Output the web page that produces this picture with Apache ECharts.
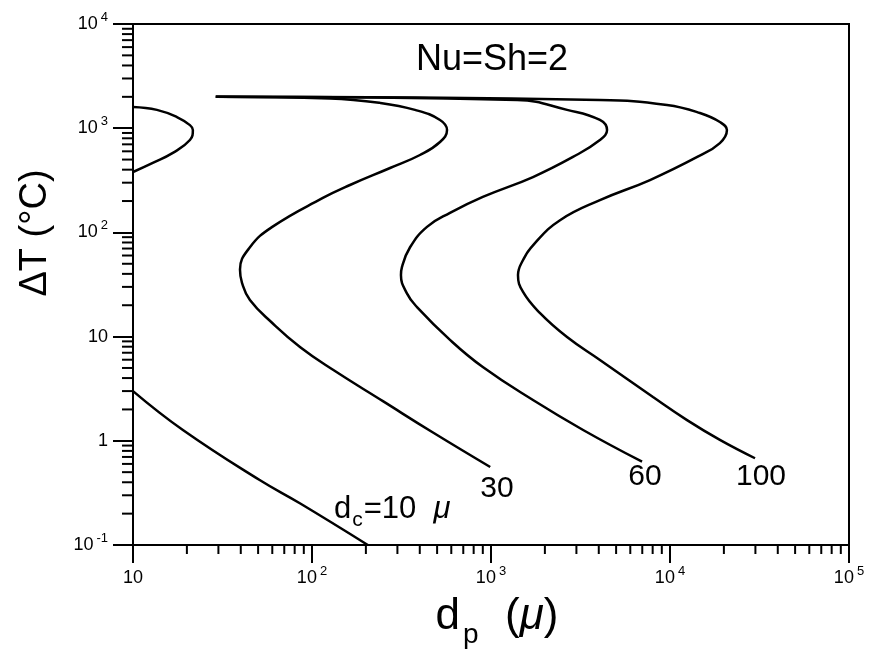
<!DOCTYPE html>
<html>
<head>
<meta charset="utf-8">
<script src="https://cdn.jsdelivr.net/npm/echarts@6/dist/echarts.min.js"></script>
<style>
    html, body {margin: 0; padding: 0; background: #fff;}
    #main {width: 872px; height: 650px;}
</style>
</head>
<body>
<div id="main"></div>
<script>
// axis ticks
let xTicks = [10, 100, 1000, 10000, 100000];
let xTickText = ['10', '10^2', '10^3', '10^4', '10^5'];
let yTicks = [0.1, 1, 10, 100, 1000, 10000];
let yTickText = ['10^-1', '1', '10', '10^2', '10^3', '10^4'];
let minorSteps = [2, 3, 4, 5, 6, 7, 8, 9];

// curves, [dp, dT]
let dc10Upper = [[10, 1600], [13.6, 1500], [17.6, 1280], [20.8, 1070], [21.6, 960], [20.8, 770], [16.7, 580], [12.9, 465], [10, 380]];
let dc10Lower = [[10, 3.0], [19, 1.27], [51, 0.42], [86, 0.25], [205, 0.1]];
let dc30 = [[29, 2000], [126, 1930], [240, 1750], [376, 1500], [519, 1200], [568, 960], [519, 737], [401, 553], [273, 415],
    [163, 285], [115, 214], [60, 113], [45, 72], [39.6, 44], [40.6, 33], [45, 22.4], [60, 13.5], [86, 7.9], [131, 4.8],
    [249, 2.4], [474, 1.2], [990, 0.56]];
let dc60 = [[29, 2000], [1400, 1865], [2660, 1500], [4060, 1200], [4450, 960], [4060, 770], [2870, 530], [1716, 340],
    [900, 219], [590, 154], [439, 113], [353, 72], [318, 46.5], [314, 39], [339, 26], [386, 19.2], [590, 9.3], [900, 5.1],
    [1716, 2.46], [3270, 1.27], [6980, 0.63]];
let dc100 = [[29, 2000], [4060, 1865], [9620, 1670], [14700, 1400], [19000, 1147], [20800, 960], [19000, 720], [14200, 530],
    [7730, 318], [4060, 204], [2430, 131], [1760, 79], [1490, 52], [1415, 39], [1510, 26.8], [1880, 16.8],
    [2660, 9.9], [4060, 5.96], [8035, 2.63], [12450, 1.58], [19000, 1.02], [29850, 0.68]];

let font = '"Liberation Sans", Arial, sans-serif';

function tickText(value, ticks, texts) {
    let lv = Math.log10(value);
    for (let i = 0; i < ticks.length; i++) {
        if (Math.abs(Math.log10(ticks[i]) - lv) < 1e-6) {
            let parts = texts[i].split('^');
            return parts.length > 1 ? '{b|' + parts[0] + '}{s|' + parts[1] + '}' : '{b|' + parts[0] + '}';
        }
    }
    return '';
}

let labelRich = {
    b: {fontSize: 18, lineHeight: 26, verticalAlign: 'middle', fontFamily: font, color: '#000'},
    s: {fontSize: 13, lineHeight: 13, verticalAlign: 'top', fontFamily: font, color: '#000', padding: [0, 0, 0, 3]}
};

let minorX = [];
let minorY = [];
xTicks.slice(0, -1).forEach(function (t) {
    minorSteps.forEach(function (m) { minorX.push([t * m, 0.1]); });
});
yTicks.slice(0, -1).forEach(function (t) {
    minorSteps.forEach(function (m) { minorY.push([10, t * m]); });
});

function curve(data) {
    return {
        type: 'line',
        data: data,
        showSymbol: false,
        smooth: 0.45,
        silent: true,
        lineStyle: {color: '#000', width: 2.5}
    };
}

function tickSeries(data, dx, dy) {
    return {
        type: 'custom',
        data: data,
        clip: false,
        silent: true,
        renderItem: function (params, api) {
            let p = api.coord([api.value(0), api.value(1)]);
            return {
                type: 'line',
                shape: {x1: p[0], y1: p[1], x2: p[0] + dx, y2: p[1] + dy},
                style: {stroke: '#000', lineWidth: 2}
            };
        }
    };
}

function note(x, y, text, size) {
    return {
        type: 'text', x: x, y: y,
        style: {text: text, font: size + 'px ' + font, fill: '#000',
            align: 'center', verticalAlign: 'middle', textAlign: 'center', textVerticalAlign: 'middle'}
    };
}

let chart = echarts.init(document.getElementById('main'));

let option = {
    animation: false,
    backgroundColor: '#fff',
    grid: {left: 133, right: 23, top: 24, bottom: 105, show: true, borderColor: '#000', borderWidth: 2},
    xAxis: {
        type: 'log',
        logBase: 10,
        min: 10,
        max: 100000,
        axisLine: {lineStyle: {color: '#000', width: 2}},
        axisTick: {length: 18, lineStyle: {color: '#000', width: 2}},
        splitLine: {show: false},
        axisLabel: {
            margin: 20,
            fontSize: 18,
            formatter: function (v) { return tickText(v, xTicks, xTickText); },
            rich: labelRich
        }
    },
    yAxis: {
        type: 'log',
        logBase: 10,
        min: 0.1,
        max: 10000,
        axisLine: {lineStyle: {color: '#000', width: 2}},
        axisTick: {length: 20, lineStyle: {color: '#000', width: 2}},
        splitLine: {show: false},
        axisLabel: {
            margin: 25,
            fontSize: 18,
            formatter: function (v) { return tickText(v, yTicks, yTickText); },
            rich: labelRich
        }
    },
    series: [
        curve(dc10Upper),
        curve(dc10Lower),
        curve(dc30),
        curve(dc60),
        curve(dc100),
        tickSeries(minorX, 0, 9),
        tickSeries(minorY, -11, 0)
    ],
    graphic: [
        note(492, 60, 'Nu=Sh=2', 36),
        note(497, 489, '30', 30),
        note(645, 477, '60', 30),
        note(761, 477, '100', 30),
        {
            type: 'text', x: 334, y: 494,
            style: {
                text: '{n|d}{sub|c}{n|=10  }{mu|μ}',
                align: 'left', verticalAlign: 'top', textAlign: 'left', textVerticalAlign: 'top',
                rich: {
                    n: {fontSize: 31, lineHeight: 30, verticalAlign: 'top', fontFamily: font, fill: '#000', color: '#000'},
                    sub: {fontSize: 21, lineHeight: 20, verticalAlign: 'top', padding: [16, 1, 0, 1], fontFamily: font, fill: '#000', color: '#000'},
                    mu: {fontSize: 31, lineHeight: 30, verticalAlign: 'top', fontStyle: 'italic', fontFamily: font, fill: '#000', color: '#000'}
                }
            }
        },
        {
            type: 'text', x: 497, y: 595,
            style: {
                text: '{n|d}{sub|p}{n|  (}{mu|μ}{n|)}',
                align: 'center', verticalAlign: 'top', textAlign: 'center', textVerticalAlign: 'top',
                rich: {
                    n: {fontSize: 44, lineHeight: 42, verticalAlign: 'top', fontFamily: font, fill: '#000', color: '#000'},
                    sub: {fontSize: 28, lineHeight: 26, verticalAlign: 'top', padding: [26, 2, 0, 3], fontFamily: font, fill: '#000', color: '#000'},
                    mu: {fontSize: 44, lineHeight: 42, verticalAlign: 'top', fontStyle: 'italic', fontFamily: font, fill: '#000', color: '#000'}
                }
            }
        },
        {
            type: 'text', x: 36, y: 233, rotation: Math.PI / 2,
            style: {text: 'ΔT (°C)', font: '38px ' + font, fill: '#000',
                align: 'center', verticalAlign: 'middle', textAlign: 'center', textVerticalAlign: 'middle'}
        }
    ]
};

chart.setOption(option);
</script>
</body>
</html>
